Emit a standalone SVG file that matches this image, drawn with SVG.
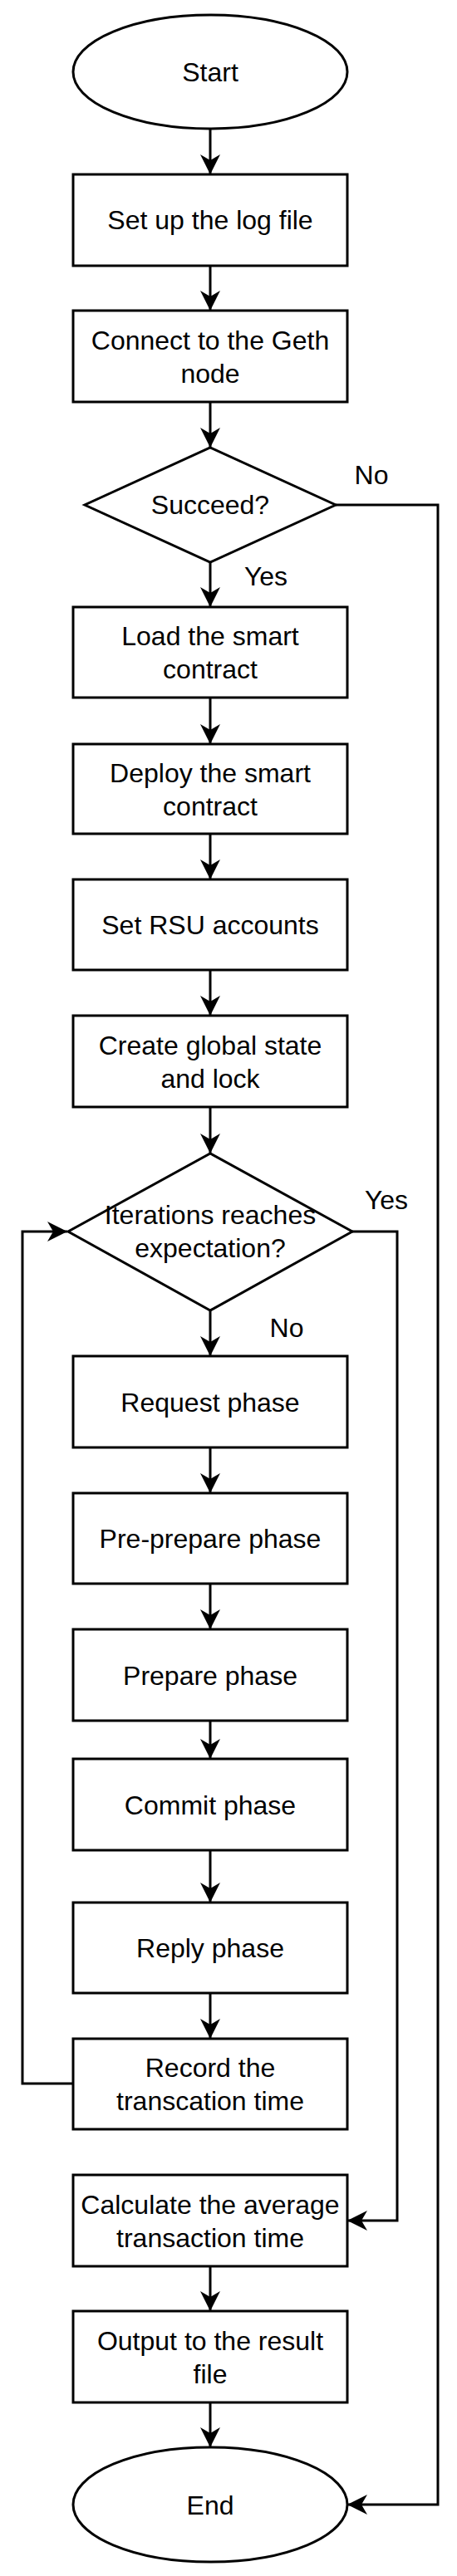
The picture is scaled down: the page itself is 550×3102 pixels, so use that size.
<svg xmlns="http://www.w3.org/2000/svg" width="550" height="3102" viewBox="0 0 550 3102">
<style>
.s{fill:#fff;stroke:#000;stroke-width:3}
.t{font-family:"Liberation Sans",Arial,sans-serif;font-size:32px;fill:#000;text-anchor:middle}
.c{fill:none;stroke:#000;stroke-width:3}
</style>
<defs>
<marker id="a" markerUnits="userSpaceOnUse" markerWidth="26" markerHeight="26" refX="24" refY="12" orient="auto" viewBox="0 0 26 24">
<path d="M0,0 L24,12 L0,24 L7,12 Z" fill="#000"/>
</marker>
</defs>
<rect width="550" height="3102" fill="#fff"/>
<g id="connectors">
<path class="c" d="M253,155 V210" marker-end="url(#a)"/>
<path class="c" d="M253,320 V374" marker-end="url(#a)"/>
<path class="c" d="M253,484 V539" marker-end="url(#a)"/>
<path class="c" d="M253,677 V731" marker-end="url(#a)"/>
<path class="c" d="M404,608 H527 V3016 H418" marker-end="url(#a)"/>
<path class="c" d="M253,840 V896" marker-end="url(#a)"/>
<path class="c" d="M253,1004 V1059" marker-end="url(#a)"/>
<path class="c" d="M253,1168 V1223" marker-end="url(#a)"/>
<path class="c" d="M253,1333 V1389" marker-end="url(#a)"/>
<path class="c" d="M253,1578 V1633" marker-end="url(#a)"/>
<path class="c" d="M424,1483 H478 V2674 H418" marker-end="url(#a)"/>
<path class="c" d="M253,1743 V1798" marker-end="url(#a)"/>
<path class="c" d="M253,1907 V1962" marker-end="url(#a)"/>
<path class="c" d="M253,2072 V2118" marker-end="url(#a)"/>
<path class="c" d="M253,2228 V2291" marker-end="url(#a)"/>
<path class="c" d="M253,2400 V2455" marker-end="url(#a)"/>
<path class="c" d="M88,2509 H27 V1483 H81" marker-end="url(#a)"/>
<path class="c" d="M253,2729 V2783" marker-end="url(#a)"/>
<path class="c" d="M253,2893 V2947" marker-end="url(#a)"/>
<text class="t" x="447" y="583">No</text>
<text class="t" x="320" y="705">Yes</text>
<text class="t" x="465" y="1456">Yes</text>
<text class="t" x="345" y="1610">No</text>
</g>
<g id="start"><ellipse class="s" cx="253" cy="86.5" rx="165" ry="68.5"/><text class="t" x="253" y="98">Start</text></g>
<g id="logfile"><rect class="s" x="88" y="210" width="330" height="110"/><text class="t" x="253" y="276">Set up the log file</text></g>
<g id="connect"><rect class="s" x="88" y="374" width="330" height="110"/><text class="t" x="253" y="420.5">Connect to the Geth</text><text class="t" x="253" y="460.5">node</text></g>
<g id="succeed"><polygon class="s" points="253,539 404,608 253,677 102,608"/><text class="t" x="253" y="619">Succeed?</text></g>
<g id="load"><rect class="s" x="88" y="731" width="330" height="109"/><text class="t" x="253" y="777">Load the smart</text><text class="t" x="253" y="817">contract</text></g>
<g id="deploy"><rect class="s" x="88" y="896" width="330" height="108"/><text class="t" x="253" y="941.5">Deploy the smart</text><text class="t" x="253" y="981.5">contract</text></g>
<g id="rsu"><rect class="s" x="88" y="1059" width="330" height="109"/><text class="t" x="253" y="1125">Set RSU accounts</text></g>
<g id="global"><rect class="s" x="88" y="1223" width="330" height="110"/><text class="t" x="253" y="1269.5">Create global state</text><text class="t" x="253" y="1309.5">and lock</text></g>
<g id="iter"><polygon class="s" points="253,1389 424,1483 253,1578 82,1483"/><text class="t" x="253" y="1473.5">Iterations reaches</text><text class="t" x="253" y="1514">expectation?</text></g>
<g id="request"><rect class="s" x="88" y="1633" width="330" height="110"/><text class="t" x="253" y="1699.5">Request phase</text></g>
<g id="preprepare"><rect class="s" x="88" y="1798" width="330" height="109"/><text class="t" x="253" y="1864">Pre-prepare phase</text></g>
<g id="prepare"><rect class="s" x="88" y="1962" width="330" height="110"/><text class="t" x="253" y="2028.5">Prepare phase</text></g>
<g id="commit"><rect class="s" x="88" y="2118" width="330" height="110"/><text class="t" x="253" y="2184.5">Commit phase</text></g>
<g id="reply"><rect class="s" x="88" y="2291" width="330" height="109"/><text class="t" x="253" y="2357">Reply phase</text></g>
<g id="record"><rect class="s" x="88" y="2455" width="330" height="109"/><text class="t" x="253" y="2501">Record the</text><text class="t" x="253" y="2541">transcation time</text></g>
<g id="calc"><rect class="s" x="88" y="2619" width="330" height="110"/><text class="t" x="253" y="2665.5">Calculate the average</text><text class="t" x="253" y="2705.5">transaction time</text></g>
<g id="output"><rect class="s" x="88" y="2783" width="330" height="110"/><text class="t" x="253" y="2829.5">Output to the result</text><text class="t" x="253" y="2869.5">file</text></g>
<g id="end"><ellipse class="s" cx="253" cy="3016" rx="165" ry="69"/><text class="t" x="253" y="3027.5">End</text></g>
</svg>
